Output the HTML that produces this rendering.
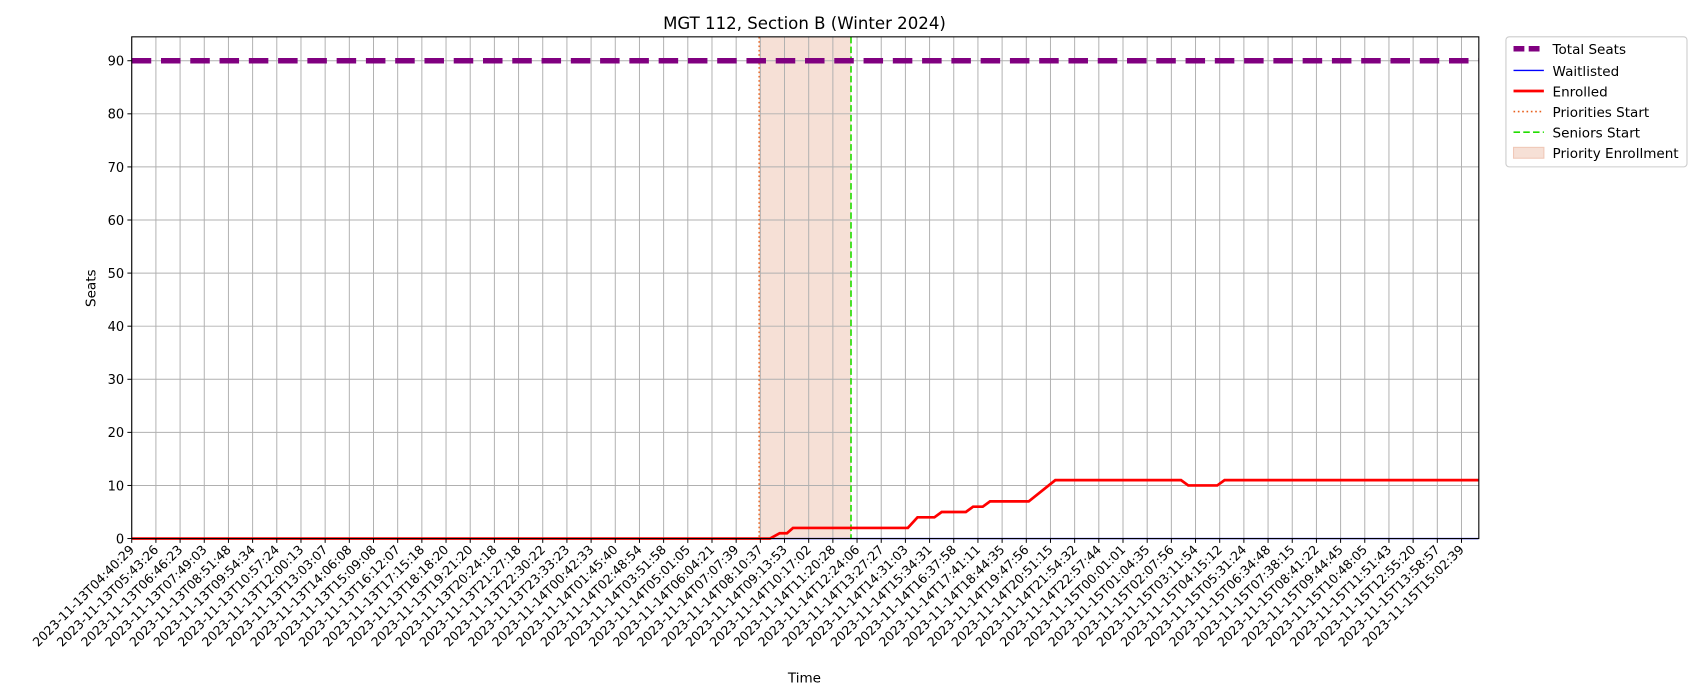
<!DOCTYPE html>
<html><head><meta charset="utf-8"><style>
body{margin:0;background:#fff;font-family:"Liberation Sans","DejaVu Sans",sans-serif;overflow:hidden}
svg text{font-family:"DejaVu Sans","Liberation Sans",sans-serif}
</style></head><body>
<svg id="chart" width="1700" height="700" viewBox="0 0 1568 646" preserveAspectRatio="none" xmlns="http://www.w3.org/2000/svg" style="display:block">
<rect width="1568" height="646" fill="#fff"/>
<text x="742" y="27" font-size="15.3" text-anchor="middle">MGT 112, Section B (Winter 2024)</text>
<g id="grid"></g><g id="marks"></g><g id="axes"></g>
<text transform="translate(88,266) rotate(-90)" font-size="12.5" text-anchor="middle">Seats</text>
<text x="742" y="630" font-size="12.5" text-anchor="middle">Time</text>
<g>
<rect x="1389" y="34" width="167" height="120" fill="#fff" stroke="#ccc" rx="3"/>
<g><line x1="1396" y1="45" x2="1424" y2="45" stroke="#800080" stroke-width="5" stroke-dasharray="10,4"/><text x="1432" y="50" font-size="12.5">Total Seats</text></g>
<g><line x1="1396" y1="65" x2="1424" y2="65" stroke="#0000ff" stroke-width="1.2"/><text x="1432" y="70" font-size="12.5">Waitlisted</text></g>
<g><line x1="1396" y1="84" x2="1424" y2="84" stroke="#ff0000" stroke-width="2.5"/><text x="1432" y="89" font-size="12.5">Enrolled</text></g>
<g><line x1="1396" y1="103" x2="1424" y2="103" stroke="#e8601c" stroke-width="1.5" stroke-dasharray="1.5,2.5"/><text x="1432" y="108" font-size="12.5">Priorities Start</text></g>
<g><line x1="1396" y1="122" x2="1424" y2="122" stroke="#22dd00" stroke-width="1.5" stroke-dasharray="6,3"/><text x="1432" y="127" font-size="12.5">Seniors Start</text></g>
<g><rect x="1396" y="136" width="28" height="10" fill="#f6e0d6" stroke="#f0c8b8"/><text x="1432" y="146" font-size="12.5">Priority Enrollment</text></g>
</g>
</svg>
<script>
const tickLabels=["2023-11-13T04:40:29","2023-11-13T05:43:26","2023-11-13T06:46:23","2023-11-13T07:49:03","2023-11-13T08:51:48","2023-11-13T09:54:34","2023-11-13T10:57:24","2023-11-13T12:00:13","2023-11-13T13:03:07","2023-11-13T14:06:08","2023-11-13T15:09:08","2023-11-13T16:12:07","2023-11-13T17:15:18","2023-11-13T18:18:20","2023-11-13T19:21:20","2023-11-13T20:24:18","2023-11-13T21:27:18","2023-11-13T22:30:22","2023-11-13T23:33:23","2023-11-14T00:42:33","2023-11-14T01:45:40","2023-11-14T02:48:54","2023-11-14T03:51:58","2023-11-14T05:01:05","2023-11-14T06:04:21","2023-11-14T07:07:39","2023-11-14T08:10:37","2023-11-14T09:13:53","2023-11-14T10:17:02","2023-11-14T11:20:28","2023-11-14T12:24:06","2023-11-14T13:27:27","2023-11-14T14:31:03","2023-11-14T15:34:31","2023-11-14T16:37:58","2023-11-14T17:41:11","2023-11-14T18:44:35","2023-11-14T19:47:56","2023-11-14T20:51:15","2023-11-14T21:54:32","2023-11-14T22:57:44","2023-11-15T00:01:01","2023-11-15T01:04:35","2023-11-15T02:07:56","2023-11-15T03:11:54","2023-11-15T04:15:12","2023-11-15T05:31:24","2023-11-15T06:34:48","2023-11-15T07:38:15","2023-11-15T08:41:22","2023-11-15T09:44:45","2023-11-15T10:48:05","2023-11-15T11:51:43","2023-11-15T12:55:20","2023-11-15T13:58:57","2023-11-15T15:02:39"];
const yTicks=[0,10,20,30,40,50,60,70,80,90];
const enrolledX=[0,26.4,26.8,27.1,27.35,32.1,32.5,33.2,33.5,34.5,34.8,35.2,35.5,37.1,38.2,43.4,43.7,44.9,45.2,55.7];
const enrolledY=[0,0,1,1,2,2,4,4,5,5,6,6,7,7,11,11,10,10,11,11];
const waitlistX=[0,55.7];
const waitlistY=[0,0];
const totalSeats=[90,90];
const prioritiesStart=25.95;
const seniorsStart=29.75;
const xMax=55.7, yMax=94.5;
const L=121.5,R=1364,T=34,B=497;
const xs=v=>L+v*22.3;
const ys=v=>B-(B-T)*v/yMax;
const NS="http://www.w3.org/2000/svg";
function mk(tag,attrs,parent){const e=document.createElementNS(NS,tag);for(const k in attrs)e.setAttribute(k,attrs[k]);document.getElementById(parent).appendChild(e);return e;}
const sh=mk('rect',{x:xs(prioritiesStart),y:T,width:xs(seniorsStart)-xs(prioritiesStart),height:B-T,fill:'#f6e0d6'},'grid');


tickLabels.forEach((t,i)=>{
 const x=xs(i);
 const g=mk('line',{x1:x,y1:T,x2:x,y2:B,stroke:'#b0b0b0','stroke-width':0.9},'grid');
 
 
 mk('line',{x1:x,y1:B,x2:x,y2:B+4,stroke:'#000','stroke-width':0.9},'axes');
 const tx=mk('text',{x:0,y:0,'font-size':11.6,'text-anchor':'end',transform:`translate(${x+3},${B+11}) rotate(-45)`},'axes');
 tx.textContent=t;
 
 
});
yTicks.forEach(v=>{
 const y=ys(v);
 const g=mk('line',{x1:L,y1:y,x2:R,y2:y,stroke:'#b0b0b0','stroke-width':0.9},'grid');
 
 
 mk('line',{x1:L-4,y1:y,x2:L,y2:y,stroke:'#000','stroke-width':0.9},'axes');
 const tx=mk('text',{x:L-7,y:y+4.5,'font-size':12,'text-anchor':'end'},'axes');
 tx.textContent=v;
 
 
});
const ps=mk('line',{x1:xs(prioritiesStart),y1:T,x2:xs(prioritiesStart),y2:B,stroke:'#e8601c','stroke-width':1.3,'stroke-dasharray':'1.5,2.5'},'marks');


const ss=mk('line',{x1:xs(seniorsStart),y1:T,x2:xs(seniorsStart),y2:B,stroke:'#22dd00','stroke-width':1.5,'stroke-dasharray':'6,3'},'marks');


const ts=mk('line',{x1:xs(0),y1:ys(totalSeats[0]),x2:xs(xMax),y2:ys(totalSeats[1]),stroke:'#800080','stroke-width':5,'stroke-dasharray':'18,9'},'marks');


const wl=mk('polyline',{points:waitlistX.map((x,i)=>xs(x)+','+ys(waitlistY[i])).join(' '),fill:'none',stroke:'#0000ff','stroke-width':1.2},'marks');


const en=mk('polyline',{points:enrolledX.map((x,i)=>xs(x)+','+ys(enrolledY[i])).join(' '),fill:'none',stroke:'#ff0000','stroke-width':2.5},'marks');


const fr=mk('rect',{x:L,y:T,width:R-L,height:B-T,fill:'none',stroke:'#000','stroke-width':1},'axes');


</script>
</body></html>
